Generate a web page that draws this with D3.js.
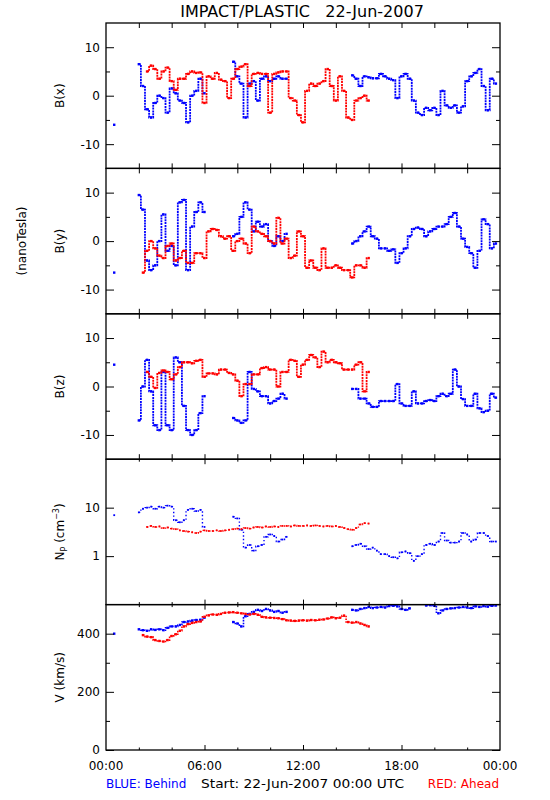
<!DOCTYPE html>
<html>
<head>
<meta charset="utf-8">
<script src="https://cdn.jsdelivr.net/npm/d3@7"></script>
<style>
  html, body { margin: 0; padding: 0; background: #fff; }
  svg { display: block; }
  text { font-family: "DejaVu Sans", sans-serif; }
</style>
</head>
<body>
<div id="chart"></div>
<script>
// ---------------- DATA (15-minute samples, hour 0.00 .. 23.75) ----------------
const hours = d3.range(0, 24, 0.25);
const xTickHours = [0, 2, 4, 6, 8, 10, 12, 14, 16, 18, 20, 22, 24];
const xTickLabels = ["00:00", "06:00", "12:00", "18:00", "00:00"];
const xLabelHours = [0, 6, 12, 18, 24];

// B(x) nT
const bxBehind = [null,null,-6,null, null,null,null,null, 6.5,2,-2.8,-4.5, -1.5,0,-0.5,-3.5,
  1.5,0.5,-1,-1.5, -5.5,0,1,3.5, 0.5,null,null,null, null,null,null,7,
  4,2.5,-4.5,2.5, 3,-1,3.5,4, 3,3.5,4,3.5, 3.5,null,null,null,
  null,null,null,null, null,null,null,null, null,null,null,null, 4.2,3.5,2,4,
  3.8,3.6,3.6,4.5, 4,3.5,3.2,-0.5, 4,4.5,3.5,-1, -3.5,-4,-2.5,-3,
  -2.5,-4,1,-2, -2.5,-2,-3.5,-2.2, 3,4,4.7,5.5, 2,-3,3.5,2.5];
const bxAhead = [null,null,null,null, null,null,null,null, null,null,5,6.2, 5.5,3.5,5,5.8,
  3,1.2,3.5,3.5, 4.5,5,4.7,4.8, -1.5,4,3.5,4.7, 3.3,3,-0.5,3.5,
  5.5,6,6.5,2, 4.5,4.7,4.5,4.5, -3.5,4.5,4.8,5, 5,-0.5,-1,-4,
  -5.5,1,2.5,2, 2.5,3,5.5,2, -1,4,1,-4.5, -5,-1,-0.5,0,
  -1,null,null,null, null,null,null,null, null,null,null,null, null,null,null,null,
  null,null,null,null, null,null,null,null, null,null,null,null, null,null,null,null];

// B(y) nT
const byBehind = [null,null,-6.5,null, null,null,null,null, 9.5,6.5,-4,-6, -5,0,5.5,-2,
  -1,-5,8,8.5, -6,3,6,8, 6,null,null,null, null,null,null,1,
  1.5,5,8,6.5, 2,4,3,3.5, 0,-1,1,0, 1.5,null,null,null,
  null,null,null,null, null,null,null,null, null,null,null,null, -0.5,0,1,2,
  3,1,0.5,-1.5, -1.5,-2,-1.7,-4.5, -2.5,-1.5,1,2.5, 2.8,2.5,1,2,
  2.5,3,3,3.5, 5,5.8,3,0.5, -1.2,-2.5,-5.5,-2, 4.5,3.5,-1.5,-0.5];
const byAhead = [null,null,null,null, null,null,null,null, null,-6.5,-2,0, -1.5,-3,-3.5,-1,
  -0.5,-4,-3.5,-2, -4.5,-4.5,-2.5,-2.5, -3.5,2,2.5,2.3, 1,0.5,1,-2,
  0,0.5,-0.5,-2.5, 3,2,1.5,1, 0,-0.5,4.8,-0.5, 0.5,-3.5,-3,2,
  1,-5.5,-4,-5.5, -6,-1.5,-5.5,-5.5, -5,-5.5,-6,-6, -7.5,-5,-5,-5.5,
  -3.5,null,null,null, null,null,null,null, null,null,null,null, null,null,null,null,
  null,null,null,null, null,null,null,null, null,null,null,null, null,null,null,null];

// B(z) nT
const bzBehind = [null,null,4.5,null, null,null,null,null, -7,0,5.5,-1, -8,-9,3,-8,
  -9,6,5,-4, -9,-10,-9,-5.5, -2,null,null,null, null,null,null,-6.5,
  -7,-7.5,-7,3, -0.5,-1,-2,-2, -3.5,-3,-2.5,-1.5, -2.5,null,null,null,
  null,null,null,null, null,null,null,null, null,null,null,null, -0.5,-0.5,-2.5,-2.5,
  -3.5,-4.2,-4.2,-3, -3,-3,-3,0.5, -3.5,-4,-4,-1, -3.5,-3.5,-3,-2.8,
  -3,-2,-1.5,-2, -1.5,3.5,0,-2.6, -4,-4,-1.5,-4.5, -5.3,-5,-1.5,-2.3];
const bzAhead = [null,null,null,null, null,null,null,null, null,null,3,2, -0.3,2.8,3.3,3,
  1.5,2.5,4,5, 5,4.8,5.3,5.5, 2,2.7,2.7,2.5, 3.5,3.5,2.8,2.5,
  1.2,-2,0.5,0.5, 2.5,2.5,3.8,4, 3.5,3.5,0,3, 3,5.5,5.3,2,
  4.5,5.5,6.5,6, 4,7.2,5,5.5, 5,4.8,3.5,3.5, 3.5,4.5,5,-1,
  3,null,null,null, null,null,null,null, null,null,null,null, null,null,null,null,
  null,null,null,null, null,null,null,null, null,null,null,null, null,null,null,null];

// Proton density cm^-3
const npBehind = [null,null,7,null, null,null,null,null, 8,9.5,10,10.5, 9.5,10.5,10,11,
  10.5,5.5,5,5.5, 9,9.5,8.5,9, 4,null,null,null, null,null,null,6.5,
  6,3.5,1.5,1.7, 1.3,1.6,1.7,2.5, 2.8,2.6,2.0,2.2, 2.5,null,null,null,
  null,null,null,null, null,null,null,null, null,null,null,null, 1.6,1.7,1.8,1.6,
  1.4,1.5,1.3,1.1, 1.1,1.0,0.95,0.9, 1.2,1.25,1.15,0.8, 1.0,1.1,1.7,1.8,
  1.7,2.0,3.0,2.1, 1.9,1.9,2.0,3.0, 2.8,2.0,2.2,3.0, 3.0,2.6,2.0,2.0];
const npAhead = [null,null,null,null, null,null,null,null, null,null,4.0,4.2, 4.0,4.1,3.8,3.9,
  3.7,3.6,3.4,3.3, 3.2,3.1,3.0,3.2, 3.4,3.3,3.3,3.4, 3.3,3.4,3.5,3.6,
  3.7,3.6,3.8,3.7, 3.9,4.0,3.9,4.1, 4.0,4.1,4.0,4.2, 4.2,4.1,4.3,4.2,
  4.2,4.3,4.2,4.3, 4.2,4.1,4.2,4.1, 4.2,4.0,3.8,3.6, 3.5,3.8,4.5,4.8,
  4.7,null,null,null, null,null,null,null, null,null,null,null, null,null,null,null,
  null,null,null,null, null,null,null,null, null,null,null,null, null,null,null,null];

// Bulk speed km/s
const vBehind = [null,null,400,null, null,null,null,null, 415,412,410,415, 413,415,412,420,
  425,425,430,440, 442,445,447,448, 455,null,null,null, null,null,null,440,
  435,425,460,468, 475,482,478,485, 480,475,478,472, 475,null,null,null,
  null,null,null,null, null,null,null,null, null,null,null,null, 482,480,485,488,
  492,488,490,492, 490,495,496,494, 485,482,487,null, null,null,497,498,
  496,470,480,485, 487,488,490,492, 490,488,494,492, 495,493,496,497];
const vAhead = [null,null,null,null, null,null,null,null, null,395,390,388, 378,375,373,378,
  392,398,410,425, 433,437,440,442, 458,463,466,465, 468,472,473,474,
  472,470,468,466, 468,465,458,456, 455,454,453,450, 446,445,444,445,
  446,445,447,446, 448,449,452,456, 453,455,462,440, 438,440,435,430,
  425,null,null,null, null,null,null,null, null,null,null,null, null,null,null,null,
  null,null,null,null, null,null,null,null, null,null,null,null, null,null,null,null];

const bTicks = [-10, 0, 10], bMinor = [-5, 5];
const npTicks = [1, 10];
const vTicks = [0, 200, 400], vMinor = [100, 300];

// ---------------- LAYOUT ----------------
const W = 550, H = 800;
const left = 106, right = 500, top0 = 23, bottom = 750;
const ph = (bottom - top0) / 5;
const BLUE = "#0000ff", RED = "#ff0000";

const svg = d3.select("#chart").append("svg").attr("width", W).attr("height", H);
svg.append("rect").attr("width", W).attr("height", H).attr("fill", "#fff");

const x = d3.scaleLinear().domain([0, 24]).range([left, right]);

svg.append("text").attr("x", 302).attr("y", 17).attr("text-anchor", "middle")
  .attr("font-size", 16).attr("xml:space", "preserve").style("white-space", "pre")
  .text("IMPACT/PLASTIC   22-Jun-2007");

const panels = [
  { key: "bx", behind: bxBehind, ahead: bxAhead, y: d3.scaleLinear().domain([-15, 15]), major: bTicks, minor: bMinor, label: "B(x)" },
  { key: "by", behind: byBehind, ahead: byAhead, y: d3.scaleLinear().domain([-15, 15]), major: bTicks, minor: bMinor, label: "B(y)" },
  { key: "bz", behind: bzBehind, ahead: bzAhead, y: d3.scaleLinear().domain([-15, 15]), major: bTicks, minor: bMinor, label: "B(z)" },
  { key: "np", behind: npBehind, ahead: npAhead, y: d3.scaleLog().domain([0.1, 100]), major: npTicks, minor: [], label: null },
  { key: "v", behind: vBehind, ahead: vAhead, y: d3.scaleLinear().domain([0, 500]), major: vTicks, minor: vMinor, label: "V (km/s)" }
];

const lineStyle = {
  bx: { w: 1.8, dash: "2,0.8" }, by: { w: 1.8, dash: "2,0.8" }, bz: { w: 1.8, dash: "2,0.8" },
  np: { w: 1.4, dash: "1.4,2.2" }, v: { w: 1.6, dash: "1.6,1.2" }
};

panels.forEach((p, i) => {
  const t = top0 + i * ph, b = t + ph;
  p.y.range([b, t]);
  const g = svg.append("g");
  const clipId = "clip" + i;
  svg.append("clipPath").attr("id", clipId).append("rect")
    .attr("x", left).attr("y", t).attr("width", right - left).attr("height", ph);

  const dataG = g.append("g").attr("clip-path", `url(#${clipId})`);
  const ls = lineStyle[p.key];
  [[p.behind, BLUE], [p.ahead, RED]].forEach(([arr, col]) => {
    const pts = hours.map((h, k) => [h, arr[k]]);
    const line = d3.line().defined(d => d[1] != null).curve(d3.curveStep)
      .x(d => x(d[0])).y(d => p.y(d[1]));
    dataG.append("path").attr("d", line(pts)).attr("fill", "none")
      .attr("stroke", col).attr("stroke-width", ls.w).attr("stroke-dasharray", ls.dash);
    const sz = p.key === "np" ? 1.8 : 2.4;
    dataG.selectAll(null).data(pts.filter(d => d[1] != null)).enter().append("rect")
      .attr("x", d => x(d[0]) - sz / 2).attr("y", d => p.y(d[1]) - sz / 2)
      .attr("width", sz).attr("height", sz).attr("fill", col);
  });

  // frame
  g.append("rect").attr("x", left).attr("y", t).attr("width", right - left).attr("height", ph)
    .attr("fill", "none").attr("stroke", "#000").attr("stroke-width", 1.3);

  // y axes (ticks inward)
  g.append("g").attr("transform", `translate(${left},0)`)
    .call(d3.axisLeft(p.y).tickValues(p.major).tickSizeInner(-8).tickSizeOuter(0).tickPadding(6)
      .tickFormat(d => String(d)));
  g.append("g").attr("transform", `translate(${left},0)`)
    .call(d3.axisLeft(p.y).tickValues(p.minor).tickSizeInner(-4).tickSizeOuter(0).tickFormat(""));
  g.append("g").attr("transform", `translate(${right},0)`)
    .call(d3.axisRight(p.y).tickValues(p.major).tickSizeInner(-8).tickSizeOuter(0).tickFormat(""));
  g.append("g").attr("transform", `translate(${right},0)`)
    .call(d3.axisRight(p.y).tickValues(p.minor).tickSizeInner(-4).tickSizeOuter(0).tickFormat(""));

  // x ticks (top & bottom, inward)
  const isLower = p.key === "np" || p.key === "v";
  const majorX = xTickHours.filter(h => h % 6 === 0 && h > 0 && h < 24);
  const minorX = xTickHours.filter(h => h % 6 !== 0);
  g.append("g").attr("transform", `translate(0,${b})`)
    .call(d3.axisBottom(x).tickValues(majorX).tickSizeInner(-5).tickSizeOuter(0).tickFormat(""));
  g.append("g").attr("transform", `translate(0,${b})`)
    .call(d3.axisBottom(x).tickValues(minorX).tickSizeInner(isLower ? -2.5 : -5).tickSizeOuter(0).tickFormat(""));
  g.append("g").attr("transform", `translate(0,${t})`)
    .call(d3.axisTop(x).tickValues(majorX).tickSizeInner(-5).tickSizeOuter(0).tickFormat(""));
  g.append("g").attr("transform", `translate(0,${t})`)
    .call(d3.axisTop(x).tickValues(minorX).tickSizeInner(isLower ? -2.5 : -5).tickSizeOuter(0).tickFormat(""));

  g.selectAll(".domain").remove();
  g.selectAll(".tick line").attr("stroke", "#000").attr("stroke-width", 1);
  g.selectAll(".tick text").attr("font-size", 12).attr("font-family", "DejaVu Sans").attr("fill", "#000");

  // y label
  const cy = (t + b) / 2;
  if (p.label) {
    svg.append("text").attr("transform", `translate(64,${cy}) rotate(-90)`)
      .attr("text-anchor", "middle").attr("font-size", 12).text(p.label);
  } else {
    const tx = svg.append("text").attr("transform", `translate(64,${cy}) rotate(-90)`)
      .attr("text-anchor", "middle").attr("font-size", 12);
    tx.append("tspan").text("N");
    tx.append("tspan").attr("font-size", 8).attr("dy", 3).text("P");
    tx.append("tspan").attr("dy", -3).text(" (cm");
    tx.append("tspan").attr("font-size", 8).attr("dy", -5).text("−3");
    tx.append("tspan").attr("dy", 5).text(")");
  }
  if (i === 4) {
    svg.append("g").selectAll("text").data(xLabelHours).enter().append("text")
      .attr("x", d => x(d)).attr("y", 770).attr("text-anchor", "middle")
      .attr("font-size", 12).text((d, k) => xTickLabels[k]);
  }
});

svg.append("text").attr("transform", `translate(26,241) rotate(-90)`)
  .attr("text-anchor", "middle").attr("font-size", 12).text("(nanoTesla)");

svg.append("text").attr("x", 106).attr("y", 788).attr("font-size", 12).attr("fill", BLUE)
  .text("BLUE: Behind");
svg.append("text").attr("x", 201).attr("y", 788).attr("font-size", 12).attr("fill", "#000")
  .attr("textLength", 203).attr("lengthAdjust", "spacingAndGlyphs")
  .text("Start: 22-Jun-2007 00:00 UTC");
svg.append("text").attr("x", 499).attr("y", 788).attr("font-size", 12).attr("fill", RED)
  .attr("text-anchor", "end").text("RED: Ahead");
</script>
</body>
</html>
